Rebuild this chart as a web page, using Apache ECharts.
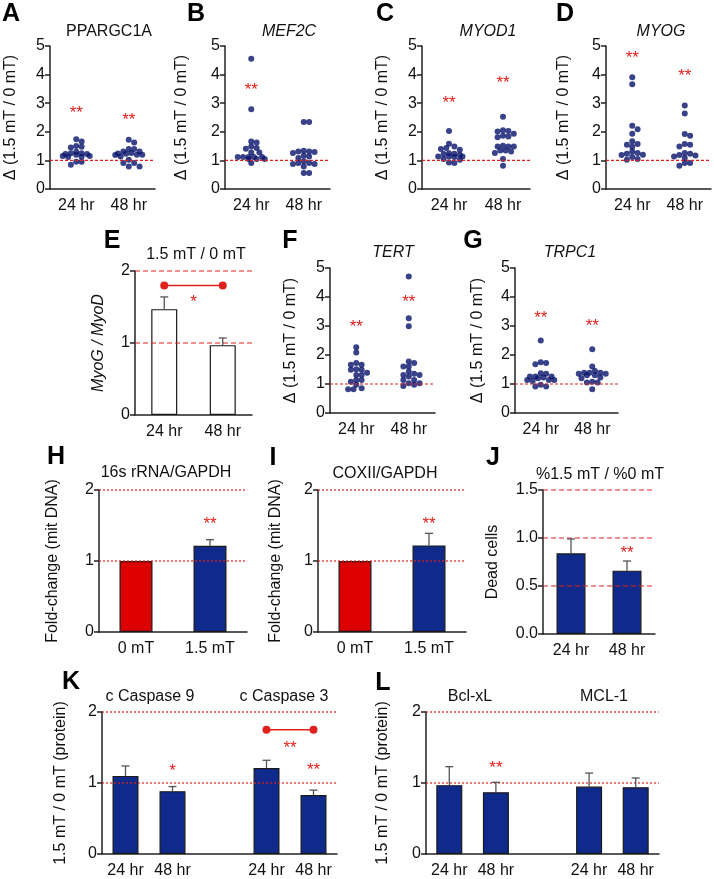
<!DOCTYPE html>
<html><head><meta charset="utf-8">
<script src="https://cdn.jsdelivr.net/npm/echarts@6/dist/echarts.min.js"></script>
<style>html,body{margin:0;padding:0;background:#fff}#c{width:714px;height:879px}</style>
</head><body><div id="c"></div>
<script>
// ---------- DATA ----------
const TIME = ['24 hr', '48 hr'];
const FIELD = ['0 mT', '1.5 mT'];
const PROT = ['24 hr', '48 hr', '', '24 hr', '48 hr'];

const A_24 = [1.74,1.66,1.50,1.48,1.45,1.30,1.25,1.22,1.20,1.25,1.22,1.15,1.13,1.15,1.12,0.95,0.95,0.85];
const A_48 = [1.72,1.63,1.40,1.40,1.31,1.23,1.19,1.24,1.26,1.31,1.14,1.20,1.20,1.02,0.91,0.91,0.79,0.79];
const B_24 = [4.55,2.79,1.66,1.63,1.49,1.43,1.41,1.28,1.28,1.12,1.12,1.12,1.12,1.12,1.05,1.05,1.05,0.91];
const B_48 = [2.34,2.34,1.31,1.34,1.26,1.31,1.29,1.14,1.16,1.08,0.91,0.87,0.87,0.91,0.79,0.56,0.56,0.97];
const C_24 = [2.03,1.58,1.49,1.37,1.43,1.22,1.20,1.25,1.23,1.14,1.12,1.14,1.14,1.05,1.02,0.93,0.91,1.40];
const C_48 = [2.53,2.05,2.01,2.03,1.84,1.86,1.93,1.81,1.51,1.49,1.49,1.49,1.35,1.35,1.31,1.26,1.05,0.81];
const D_24 = [3.91,3.66,2.21,2.09,1.93,1.67,1.57,1.55,1.48,1.31,1.20,1.23,1.26,1.19,1.12,1.02,1.05];
const D_48 = [2.92,2.64,1.92,1.86,1.55,1.49,1.57,1.14,1.17,1.23,1.26,1.19,1.08,0.91,0.91,0.81];
const F_24 = [2.27,2.09,1.72,1.66,1.66,1.51,1.49,1.49,1.39,1.31,1.31,1.14,1.14,1.08,0.97,0.85,0.82,0.82];
const F_48 = [4.71,3.27,2.99,1.78,1.72,1.60,1.60,1.43,1.31,1.35,1.31,1.26,1.14,1.14,1.03,1.03,0.97,0.93];
const G_24 = [2.50,1.75,1.68,1.72,1.37,1.26,1.26,1.26,1.35,1.14,1.14,1.14,1.22,0.97,0.91,0.91,1.10,1.20];
const G_48 = [2.20,1.60,1.39,1.39,1.45,1.39,1.35,1.35,1.20,1.05,1.05,1.08,0.82,1.30,1.22,1.30];

const A_STAR = [2.77, 2.53];
const B_STAR = [3.60, null];
const C_STAR = [3.12, 3.85];
const D_STAR = [4.70, 4.07];
const F_STAR = [3.10, 3.97];
const G_STAR = [3.39, 3.12];

const E_MEAN = [1.47, 0.97], E_ERR = [0.17, 0.10];
const H_MEAN = [1.00, 1.215], H_ERR = [0, 0.085];
const I_MEAN = [1.00, 1.22], I_ERR = [0, 0.17];
const J_MEAN = [0.84, 0.66], J_ERR = [0.15, 0.10];
const K_MEAN = [1.10, 0.885, null, 1.21, 0.83], K_ERR = [0.14, 0.065, null, 0.11, 0.07];
const L_MEAN = [0.97, 0.87, null, 0.95, 0.94], L_ERR = [0.26, 0.14, null, 0.19, 0.13];

// ---------- STYLE ----------
const FF = "'Liberation Sans', Arial, sans-serif";
const RED = '#e0201c';
const NAVY = '#08136a';
const BLUE = '#102a8c';
const BARRED = '#dd0000';
const AX = '#222';

const chart = echarts.init(document.getElementById('c'), null, {renderer: 'canvas'});
const grids = [], xAxes = [], yAxes = [], series = [], graphic = [];

function addAxes(g, cats, ymax, yint, yname, ng, opt) {
  opt = opt || {};
  const i = grids.length;
  const fs = opt.fs || 16;
  grids.push({left: g.l, top: g.t, width: g.w, height: g.h});
  xAxes.push({
    gridIndex: i, type: 'value', min: 0, max: cats.length, interval: 0.5,
    axisLine: {onZero: false, lineStyle: {color: AX, width: 1.5}},
    axisTick: {show: false}, splitLine: {show: false},
    axisLabel: {showMinLabel: true, showMaxLabel: true, fontFamily: FF, fontSize: fs, color: '#111', margin: 9,
      formatter: function (v) {
        const k = v - 0.5, r = Math.round(k);
        return (Math.abs(k - r) < 1e-6 && cats[r] !== undefined) ? cats[r] : '';
      }}
  });
  yAxes.push({
    gridIndex: i, type: 'value', min: 0, max: ymax, interval: yint,
    axisLine: {show: true, onZero: false, lineStyle: {color: AX, width: 1.5}},
    axisTick: {show: true, length: 5, lineStyle: {color: AX, width: 1.5}},
    splitLine: {show: false},
    axisLabel: {fontFamily: FF, fontSize: fs, color: '#111', margin: 5,
      formatter: opt.yfmt || function (v) { return String(v); }},
    name: yname, nameLocation: 'middle', nameRotate: 90, nameGap: ng,
    nameTextStyle: {fontFamily: FF, fontSize: opt.nfs || 16, color: '#111', fontStyle: opt.nitalic ? 'italic' : 'normal'}
  });
  return i;
}

// red reference lines drawn across the whole plot width
function refSeries(i, vals, dash, xmax) {
  series.push({
    type: 'custom', xAxisIndex: i, yAxisIndex: i, silent: true, z: 7,
    data: vals.map(v => [0, v]),
    renderItem: function (p, api) {
      const y = api.value(1);
      const a = api.coord([0, y]), b = api.coord([xmax, y]);
      return {type: 'line', shape: {x1: a[0], y1: a[1], x2: b[0], y2: b[1]},
        style: {stroke: RED, lineWidth: 1.2, lineDash: dash}};
    }
  });
}

function textSeries(i, items) {
  series.push({
    type: 'custom', xAxisIndex: i, yAxisIndex: i, silent: true, z: 12,
    data: items.map(it => [it[0], it[1]]),
    renderItem: function (p, api) {
      const it = items[p.dataIndex];
      const c = api.coord([it[0], it[1]]);
      return {type: 'text', x: c[0], y: c[1] + 4,
        style: {text: it[2], fill: RED, font: '17px ' + FF, textAlign: 'center', textVerticalAlign: 'middle'}};
    }
  });
}

function bracketSeries(i, x1, x2, y) {
  series.push({
    type: 'custom', xAxisIndex: i, yAxisIndex: i, silent: true, z: 12,
    data: [[x1, y, x2]],
    renderItem: function (p, api) {
      const a = api.coord([api.value(0), api.value(1)]);
      const b = api.coord([api.value(2), api.value(1)]);
      return {type: 'group', children: [
        {type: 'line', shape: {x1: a[0], y1: a[1], x2: b[0], y2: b[1]}, style: {stroke: RED, lineWidth: 1.5}},
        {type: 'circle', shape: {cx: a[0], cy: a[1], r: 4}, style: {fill: RED}},
        {type: 'circle', shape: {cx: b[0], cy: b[1], r: 4}, style: {fill: RED}}
      ]};
    }
  });
}

function errSeries(i, means, errs) {
  const d = [];
  means.forEach((m, k) => { if (m != null && errs[k]) d.push([k + 0.5, m, errs[k]]); });
  series.push({
    type: 'custom', xAxisIndex: i, yAxisIndex: i, silent: true, z: 8,
    data: d,
    renderItem: function (p, api) {
      const x = api.value(0), y = api.value(1), e = api.value(2);
      const p0 = api.coord([x, y]), p1 = api.coord([x, y + e]);
      return {type: 'group', children: [
        {type: 'line', shape: {x1: p0[0], y1: p0[1], x2: p1[0], y2: p1[1]}, style: {stroke: '#555', lineWidth: 1.3}},
        {type: 'line', shape: {x1: p1[0] - 4, y1: p1[1], x2: p1[0] + 4, y2: p1[1]}, style: {stroke: '#555', lineWidth: 1.3}}
      ]};
    }
  });
}

// beeswarm placement of dots (computed, not typed)
function swarm(vals, cx, pxX, pxY) {
  const D = 4.8, s = 2.7, MAXO = 14;
  const placed = [], out = [];
  const order = vals.map((v, i) => i).sort((a, b) => vals[b] - vals[a]);
  order.forEach(idx => {
    const y = vals[idx] * pxY;
    let best = 0, bestOv = Infinity;
    for (let k = 0; k < 40; k++) {
      const o = (k % 2 ? (k + 1) / 2 : -k / 2) * s;
      if (Math.abs(o) > MAXO) break;
      let ov = 0;
      for (const q of placed) {
        const dx = q[0] - o, dy = q[1] - y;
        const dd = Math.sqrt(dx * dx + dy * dy);
        if (dd < D) ov += D - dd;
      }
      if (ov === 0) { best = o; bestOv = 0; break; }
      if (ov < bestOv) { bestOv = ov; best = o; }
    }
    placed.push([best, y]);
    out.push([cx + best / pxX, vals[idx]]);
  });
  return out;
}

function scatterPanel(g, groups, stars, ng) {
  const i = addAxes(g, TIME, 5, 1, 'Δ (1.5 mT / 0 mT)', ng, {});
  const pxX = g.w / 2, pxY = g.h / 5;
  let pts = [];
  groups.forEach((vals, k) => { pts = pts.concat(swarm(vals, k + 0.5, pxX, pxY)); });
  series.push({
    type: 'scatter', xAxisIndex: i, yAxisIndex: i, silent: true, z: 5,
    symbolSize: 6, itemStyle: {color: NAVY}, data: pts
  });
  refSeries(i, [1], [3, 2], 2);
  const items = [];
  stars.forEach((s, k) => { if (s != null) items.push([k + 0.5, s, '**']); });
  textSeries(i, items);
  return i;
}

function barPanel(g, cats, means, errs, colors, ymax, yint, yname, ng, lineVals, lineType, opt) {
  const i = addAxes(g, cats, ymax, yint, yname, ng, opt);
  const d = [];
  means.forEach((m, k) => {
    if (m != null) d.push({value: [k + 0.5, m], itemStyle: {color: colors[k], borderColor: '#1a1a1a', borderWidth: 1.2}});
  });
  series.push({
    type: 'bar', xAxisIndex: i, yAxisIndex: i, silent: true, z: 5,
    barWidth: opt.bw, data: d
  });
  refSeries(i, lineVals, lineType, cats.length);
  errSeries(i, means, errs);
  return i;
}

// ---------- PANELS ----------
scatterPanel({l: 50, t: 46, w: 105, h: 143}, [A_24, A_48], A_STAR, 31);
scatterPanel({l: 225, t: 46, w: 105, h: 143}, [B_24, B_48], B_STAR, 35);
scatterPanel({l: 422, t: 46, w: 108, h: 143}, [C_24, C_48], C_STAR, 31);
scatterPanel({l: 606, t: 46, w: 106, h: 143}, [D_24, D_48], D_STAR, 34);

const iE = barPanel({l: 135, t: 271, w: 117, h: 144}, TIME, E_MEAN, E_ERR, ['#fff', '#fff'], 2, 1,
  'MyoG / MyoD', 28, [1, 2], [5, 3], {bw: 26, nitalic: true});
bracketSeries(iE, 0.5, 1.5, 1.80);
textSeries(iE, [[1.0, 1.62, '*']]);

scatterPanel({l: 330, t: 268, w: 105, h: 145}, [F_24, F_48], F_STAR, 31);
scatterPanel({l: 515, t: 268, w: 103, h: 145}, [G_24, G_48], G_STAR, 29);

const iH = barPanel({l: 99, t: 490, w: 148, h: 142}, FIELD, H_MEAN, H_ERR, [BARRED, BLUE], 2, 1,
  'Fold-change (mit DNA)', 38, [1, 2], [2, 2], {bw: 33});
textSeries(iH, [[1.5, 1.58, '**']]);
const iI = barPanel({l: 318, t: 490, w: 148, h: 142}, FIELD, I_MEAN, I_ERR, [BARRED, BLUE], 2, 1,
  'Fold-change (mit DNA)', 34, [1, 2], [2, 2], {bw: 33});
textSeries(iI, [[1.5, 1.58, '**']]);
const iJ = barPanel({l: 543, t: 490, w: 112, h: 144}, TIME, J_MEAN, J_ERR, [BLUE, BLUE], 1.5, 0.5,
  'Dead cells', 42, [0.5, 1.0, 1.5], [5, 3], {bw: 29, yfmt: v => v.toFixed(1)});
textSeries(iJ, [[1.5, 0.885, '**']]);

const iK = barPanel({l: 102, t: 712, w: 235, h: 144}, PROT, K_MEAN, K_ERR, [BLUE, BLUE, BLUE, BLUE, BLUE], 2, 1,
  '1.5 mT / 0 mT (protein)', 33, [1, 2], [2, 2], {bw: 26});
bracketSeries(iK, 3.5, 4.5, 1.75);
textSeries(iK, [[1.5, 1.22, '*'], [4.5, 1.24, '**'], [4.0, 1.54, '**']]);
const iL = barPanel({l: 426, t: 712, w: 233, h: 144}, PROT, L_MEAN, L_ERR, [BLUE, BLUE, BLUE, BLUE, BLUE], 2, 1,
  '1.5 mT / 0 mT (protein)', 35, [1, 2], [2, 2], {bw: 26});
textSeries(iL, [[1.5, 1.26, '**']]);

// ---------- TEXT ----------
const LETTERS = [['A', 11, 14], ['B', 196, 14], ['C', 385, 14], ['D', 565, 14], ['E', 112, 241], ['F', 290, 241],
  ['G', 473, 241], ['H', 56, 457], ['I', 273, 458], ['J', 493, 458], ['K', 71, 682], ['L', 383, 683]];
LETTERS.forEach(l => graphic.push({type: 'text', x: l[1], y: l[2], silent: true,
  style: {text: l[0], font: 'bold 25px ' + FF, fill: '#000', textAlign: 'center', textVerticalAlign: 'middle'}}));

const TITLES = [['PPARGC1A', 109, 32, 0], ['MEF2C', 289, 32, 1], ['MYOD1', 488, 32, 1], ['MYOG', 661, 32, 1],
  ['1.5 mT / 0 mT', 196, 255, 0], ['TERT', 393, 253, 1], ['TRPC1', 570, 253, 1],
  ['16s rRNA/GAPDH', 166, 473, 0], ['COXII/GAPDH', 385, 474, 0], ['%1.5 mT / %0 mT', 600, 475, 0],
  ['c Caspase 9', 150, 697, 0], ['c Caspase 3', 284, 697, 0], ['Bcl-xL', 470, 697, 0], ['MCL-1', 604, 697, 0]];
TITLES.forEach(t => graphic.push({type: 'text', x: t[1], y: t[2], silent: true,
  style: {text: t[0], font: (t[3] ? 'italic ' : '') + '16px ' + FF, fill: '#111', textAlign: 'center', textVerticalAlign: 'middle'}}));

chart.setOption({
  backgroundColor: '#fff',
  animation: false,
  grid: grids, xAxis: xAxes, yAxis: yAxes, series: series, graphic: graphic
});
</script></body></html>
